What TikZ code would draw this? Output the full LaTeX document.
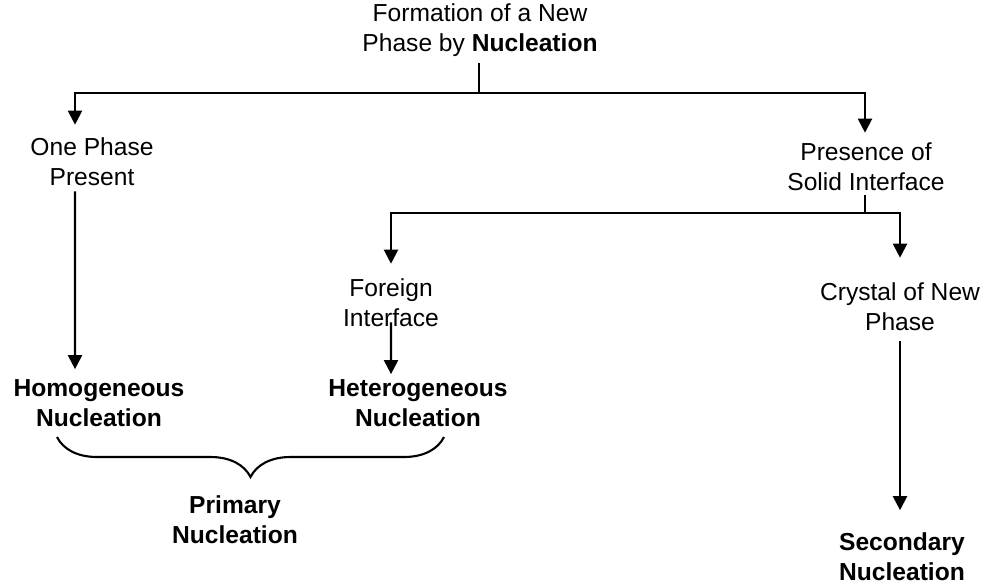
\documentclass[tikz,border=0pt]{standalone}
\usepackage{fontspec}
\setmainfont{Liberation Sans}
\usetikzlibrary{arrows.meta,decorations.pathreplacing}

\begin{document}
\begin{tikzpicture}[x=0.02cm,y=-0.02cm,>={Triangle[length=0.28cm,width=0.28cm]},
  txt/.style={align=center,font=\fontsize{14}{17}\selectfont,inner sep=0pt},
  pfeil/.style={->,line width=1.2pt},
  linie/.style={line width=0.7pt}]
\useasboundingbox (0,0) rectangle (986,586);

%Knoten
\node[txt] (bildung) at (480,30) {Formation of a New\\Phase by \textbf{Nucleation}};
\node[txt] (eine) at (92,162) {One Phase\\Present};
\node[txt] (fest) at (866,167) {Presence of\\Solid Interface};
\node[txt] (fremd) at (391,303) {Foreign\\Interface};
\node[txt] (kristall) at (900,307) {Crystal of New\\Phase};
\node[txt] (homo) at (99,403) {\textbf{Homogeneous}\\\textbf{Nucleation}};
\node[txt] (hetero) at (418,403) {\textbf{Heterogeneous}\\\textbf{Nucleation}};
\node[txt] (primaer) at (235,520) {\textbf{Primary}\\\textbf{Nucleation}};
\node[txt] (sekundaer) at (902,557) {\textbf{Secondary}\\\textbf{Nucleation}};

\coordinate (teil1) at (479,93);
\coordinate (teil2) at (865,213);

%Verbindungen
\draw[linie, shorten <=0.12cm] (bildung.south -| teil1) -- (teil1);
\draw[pfeil, shorten >=0.26cm] (teil1) -| ([xshift=-0.34cm]eine.north);
\draw[pfeil, shorten >=0.2cm] (teil1) -| (fest.north -| teil2);
\draw[pfeil, shorten <=0.1cm, shorten >=0.2cm] ([xshift=-0.34cm]eine.south) -- ([xshift=-0.48cm]homo.north);
\draw[linie, shorten <=0.08cm] (fest.south -| teil2) -- (teil2);
\draw[pfeil, shorten >=0.3cm] (teil2) -| (fremd.north);
\draw[pfeil, shorten >=0.5cm] (teil2) -| (kristall.north);
\draw[pfeil, shorten <=-0.1cm, shorten >=0.1cm] (fremd.south) -- ([xshift=-0.54cm]hetero.north);
\draw[pfeil, shorten <=0.2cm, shorten >=0.45cm] (kristall.south) -- (kristall.south |- sekundaer.north);

%Klammer
\coordinate (kl) at (57,437);
\coordinate (kr) at (444,437);
\draw[line width=1.2pt, decorate, decoration={brace, mirror, amplitude=0.8cm}] (kl) -- (kr);

\end{tikzpicture}
\end{document}
